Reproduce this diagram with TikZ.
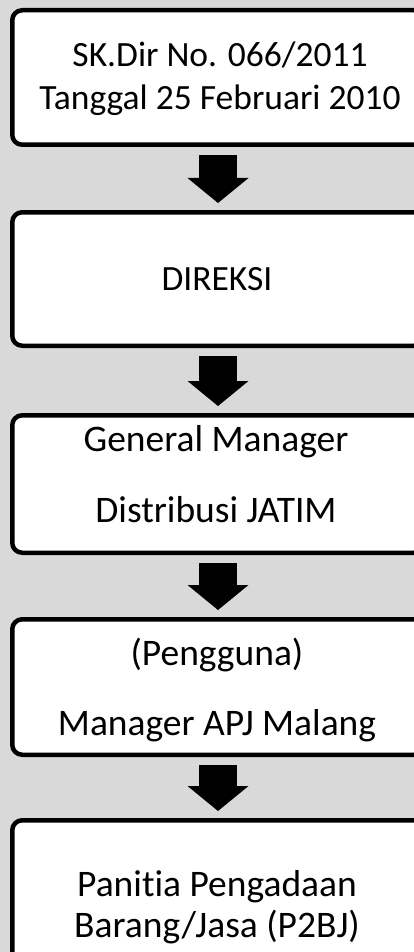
\documentclass[tikz,border=0pt]{standalone}
\usepackage{fontspec}
\setmainfont[Ligatures=NoCommon]{Carlito}
\usetikzlibrary{arrows.meta}
\definecolor{pagegrey}{RGB}{217,217,217}
\begin{document}
\begin{tikzpicture}[x=1pt,y=-1pt,
  box/.style={draw=black, line width=4.5pt, fill=white, rounded corners=10pt,
    minimum width=411.5pt, inner sep=0pt},
  caption/.style={font=\fontsize{35.5}{43}\selectfont, align=center, inner sep=0pt},
  flow/.style={line width=38pt,
    -{Triangle[width=61pt,length=25pt,line width=0pt]},
    shorten <=8pt, shorten >=7pt}]
  % page
  \useasboundingbox (0,0) rectangle (414,952);
  \fill[pagegrey] (0,0) rectangle (414,952);
  \clip (0,0) rectangle (414,952);

  % boxes (they run past the right and bottom edges of the page)
  \node[box, minimum height=134.5pt] (b1) at (218,77.5) {};
  \node[box, minimum height=133.5pt] (b2) at (218,279) {};
  \node[box, minimum height=137.5pt] (b3) at (218,484) {};
  \node[box, minimum height=135.5pt] (b4) at (218,687) {};
  \node[box, minimum height=175.5pt] (b5) at (218,908) {};

  % box texts
  \node[caption] (t1) at (220,79) {SK.Dir No. 066/2011\\Tanggal 25 Februari 2010};
  \node[caption] (t2) at (217,278.75) {DIREKSI};
  \node[caption, font=\fontsize{37.5}{71}\selectfont] (t3) at (216,474.5) {General Manager\\Distribusi JATIM};
  \node[caption, font=\fontsize{37.5}{70}\selectfont] (t4) at (217,690) {(Pengguna)\\Manager APJ Malang};
  \node[caption, font=\fontsize{37.5}{41}\selectfont] (t5) at (217,907.5) {Panitia Pengadaan\\Barang/Jasa (P2BJ)};

  % block arrows between the boxes
  \draw[flow] (b1.south) -- (b2.north);
  \draw[flow] (b2.south) -- (b3.north);
  \draw[flow] (b3.south) -- (b4.north);
  \draw[flow] (b4.south) -- (b5.north);
\end{tikzpicture}
\end{document}
